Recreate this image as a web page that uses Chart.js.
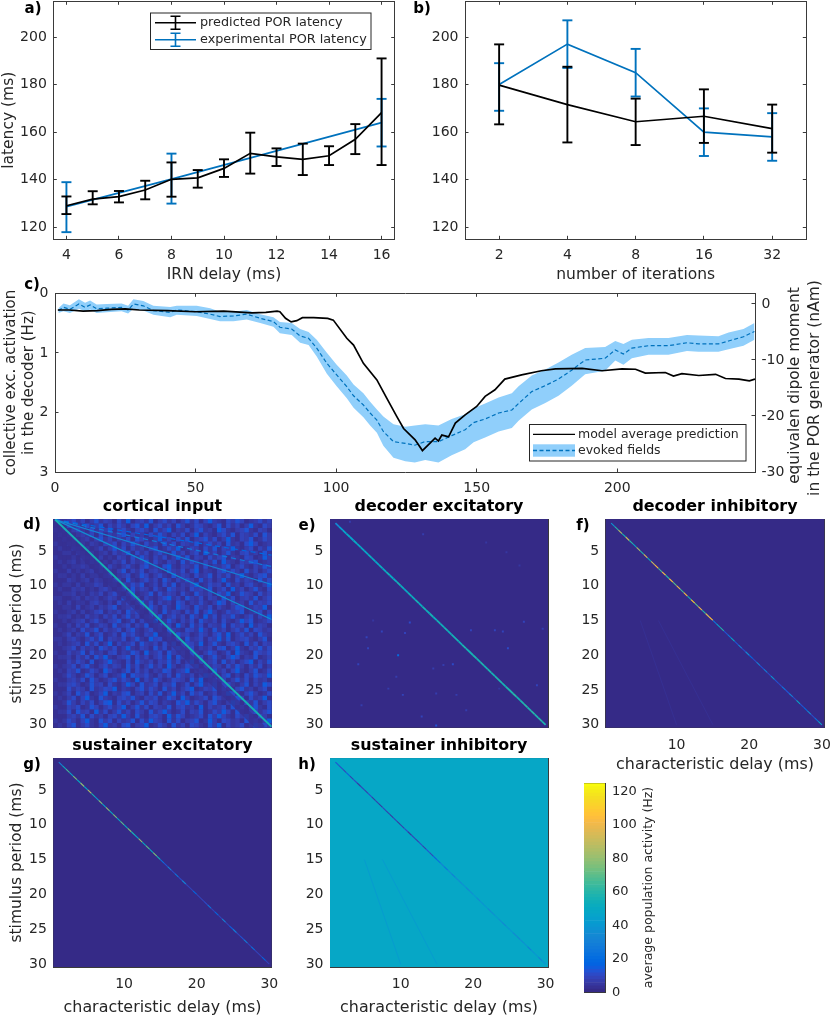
<!DOCTYPE html>
<html><head><meta charset="utf-8">
<style>html,body{margin:0;padding:0;background:#fff;width:830px;height:1016px;overflow:hidden}
canvas{position:absolute;filter:blur(0.45px)}</style>
<script src="https://cdn.jsdelivr.net/npm/chart.js@4"></script>
</head><body>
<script>
// ---- panel a
const irnDelay=[4,5,6,7,8,9,10,11,12,13,14,15,16];
const irnPred=[129.1,131.9,132.9,135.7,140.2,140.8,144.8,151.1,149.6,148.6,150.1,157,168.2];
const irnPredHi=[133,135.2,135.3,139.6,147.3,144.1,148.6,159.8,153.2,155.2,154.1,163.4,191];
const irnPredLo=[125.6,129.7,130.5,131.8,132.9,136.7,141.2,142.6,145.8,142,146.2,150.8,146.2];
const irnExpDelay=[4,8,16];
const irnExp=[128.7,140.3,164];
const irnExpHi=[139,151,174];
const irnExpLo=[118,130,154];
// ---- panel b
const iterations=[2,4,8,16,32];
const iterPred=[179.8,171.6,164.4,166.7,161.5];
const iterPredHi=[196.9,187.5,174.1,178,171.6];
const iterPredLo=[163.3,155.7,154.6,155.5,151.4];
const iterExp=[180,197,185,160,158];
const iterExpHi=[189,207,195,170,168];
const iterExpLo=[169,187,175,150,148];
// ---- panel c
const modelTime=[1,5,10,15,20,25,30,40,50,60,70,75,79,80,82,84,86,88,92,97,99,103.8,106.2,109.7,114.5,118,121.6,124,128.1,130.7,135.2,136.4,137.6,140,142.4,145.9,150,153,156.5,160,166,173,178,187.5,194.6,201.7,206.5,210,217.1,220,223,229,235,238.5,243.3,247,249];
const modelActivity=[.28,.28,.30,.29,.27,.26,.28,.29,.31,.30,.33,.32,.30,.31,.42,.48,.46,.41,.41,.42,.45,.755,.87,1.175,1.455,1.76,2.07,2.27,2.46,2.64,2.43,2.48,2.38,2.41,2.18,2.04,1.90,1.73,1.62,1.44,1.37,1.30,1.27,1.26,1.30,1.27,1.275,1.34,1.33,1.39,1.35,1.38,1.36,1.43,1.44,1.47,1.44];
const evokedTime=[1.2,3,5.3,8.5,10.7,12.5,14.8,18.4,23.7,26,27.9,31.4,35,41,43.3,50.4,55.2,58.7,63.5,68.2,73,77.7,80,84.2,87.2,90.2,93.1,96.7,100.2,103.8,106.2,109.7,112.1,114.5,116.8,120.4,124.6,128,131.7,136.4,141.1,145.9,148.9,153,157.8,162.5,164.9,169.6,174.4,179.1,183.8,188.6,195.7,199.3,202.2,205.2,211.1,218.2,224.8,228.9,236,239.6,244.9,248.8];
const evokedMean=[.29,.235,.27,.18,.235,.196,.26,.25,.235,.28,.18,.21,.29,.32,.28,.31,.35,.39,.38,.35,.42,.476,.57,.60,.716,.755,.92,1.175,1.37,1.567,1.72,1.875,2.01,2.13,2.32,2.49,2.52,2.55,2.49,2.49,2.39,2.29,2.17,2.11,2.01,1.96,1.85,1.65,1.55,1.44,1.29,1.12,1.09,.95,1.02,.92,.88,.88,.83,.85,.85,.80,.73,.64];
const evokedUpper=[.25,.17,.2,.10,.16,.12,.19,.18,.17,.21,.10,.13,.21,.23,.21,.21,.25,.31,.31,.28,.35,.40,.48,.50,.60,.65,.78,1.00,1.20,1.38,1.53,1.68,1.82,1.95,2.07,2.20,2.24,2.22,2.20,2.22,2.11,2.03,1.93,1.85,1.75,1.68,1.56,1.38,1.28,1.16,1.03,.92,.90,.80,.85,.78,.75,.75,.70,.71,.72,.66,.60,.50];
const evokedLower=[.33,.30,.33,.26,.30,.27,.33,.32,.30,.34,.26,.29,.36,.40,.36,.38,.43,.47,.47,.44,.50,.56,.67,.70,.83,.87,1.06,1.35,1.56,1.76,1.92,2.08,2.22,2.34,2.56,2.76,2.82,2.84,2.80,2.84,2.72,2.62,2.50,2.42,2.32,2.26,2.14,1.95,1.84,1.72,1.55,1.36,1.30,1.13,1.20,1.09,1.03,1.03,.97,.98,.98,.94,.88,.78];
// ---- heat maps: characteristic delay = stimulus period along the diagonal, one value per knot
const diagKnots=[1,1.5,2,2.5,3,3.5,4,4.5,5,5.5,6,6.5,7,7.5,8,8.5,9,9.5,10,10.5,11,11.5,12,12.5,13,13.5,14,14.5,15,15.5,16,16.5,17,17.5,18,18.5,19,19.5,20,20.5,21,21.5,22,22.5,23,23.5,24,24.5,25,25.5,26,26.5,27,27.5,28,28.5,29,29.5,30];
const decExcDiag=[35,42,45,48,45,50,47,50,48,52,50,48,52,50,53,50,52,55,52,50,54,52,55,52,55,53,55,52,55,54,56,54,55,56,54,57,55,56,58,55,57,56,58,55,57,58,56,58,57,59,56,58,60,57,59,58,60,58,65];
const decInhDiag=[40,60,85,55,90,60,50,85,60,95,50,90,105,65,100,60,105,70,100,65,105,55,110,70,100,60,95,105,25,45,60,12,25,50,12,30,10,35,18,10,30,12,28,10,40,12,10,24,12,30,10,48,12,18,35,10,22,45,12];
const susExcDiag=[30,50,65,45,75,50,80,45,85,55,40,75,45,80,50,75,45,70,50,75,55,45,80,50,70,50,75,55,22,12,30,10,25,10,30,8,8,18,8,8,10,25,8,18,8,30,8,15,28,8,12,28,8,22,8,8,18,8,8];
const susInhDiag=[12,10,8,15,6,10,5,8,6,10,5,7,5,9,6,5,8,5,7,10,5,8,6,10,7,12,8,14,22,30,24,34,28,34,36,38,32,36,40,34,38,40,34,36,40,36,32,38,40,34,32,36,38,28,38,40,30,38,44];
// cortical input: harmonic ridges (period reached at the right edge, value, dashed?)
const ridgeEndPeriod=[30.3,14.85,9.83,7.25,5.6];
const ridgeValue=[56,37,30,26,18];
const ridgeDash=[0,0,0,1,1];
// dim band running just under the main ridge of the cortical input, ends [delay, period]
const corticalGap=[[.5,1.6],[29,30.6]];
// cortical input: background texture, one digit per cell (rows = period, columns = delay)
const corticalRows=[
"011241302513204160231502413025140362104253012413","000312041250314203516024130520143102504130261042",
"101023104132502410342051360214035120641023510320","010101213040213503120415203140260310241503214052",
"001010120251302140531026130415023514026103250142","100110102103240315204120514032150241305120463012",
"010021010130251403120350142601320415032610240315","001102101012031250413024105130240613025103412051",
"100010211020103204152031402615032041350210430162",
"010120102101021403125041032051420315062103245012","001011210120310241035120461032150402135024103152",
"100201012021102503140231052140360210351420513024","011010201102301240153024105132041250314036102451",
"000210120210132051024130520314205130261041320514","101102011320120314250130415021360142305120341026",
"010021201023102405132041053120423150240613025104","001120102130241035012504132041052130426015320413",
"110012021201320514203102461305214032051402315024","010201102310204130251403120530214102640312051324",
"001103012021350124031520410632052140310254013260","100120201340213052410320513204150362014235012403",
"011201031203140251302415024130520614032510240316","001012302410235014031260152031405213041026350124",
"100203140132051240315024130620514032150423061320","010120412503124035102413052104316205130241504312",
"001302150240130524103260140523014203516024130521","110231024150321402510634021305124032615023410250",
"010123051402603124052130415024316025103420514032","001240312053140261032051403521402130450261032514",
"100312504120340215306124052130410253014062105324","011203140526102350413024160520314025103640215013",
"000314205013621040521303251402603124051302460315","101240351024132051402513062014350213204152031402",
"010325014206310250413021540236014205130361025014","001420153024012605324103140521302641035020415326",
"100231405201351420603152014320516024130251403120","011342015230410263051240325014036125034102503164",
"000413205124360210351420513024601325041035120240","101305240136021450230415026130524013026410352014",
"010240361052103425103240153062012405310253041260","001520314025604130251430210536142035102640315024",
"100324015302413602514032150341206031240513025104","011405230614025130420513620140325014263051024135",
"000231504120341620510342061530124052631042510320","101420361052403125041632051402350162043120513026",
"010350241036120450236014205130431052603124015342"];
// decoder excitatory: isolated spots [delay, period, value]
const decExcSpots=[[9.65,20,20],[11.26,15.3,10],[10.6,16.8,8],[5.3,17.4,8],[7.4,16.6,8],[5.5,19,8],[4.15,21.3,8],[17.2,21.3,10],[23,16.4,8],[24.1,16.6,8],[24.8,19,10],[27,15.2,8],[19.7,16.4,8],[14.9,30.1,12],[12.9,28.8,8],[10.3,25.7,8],[9.4,23.1,6],[8.3,24.8,6],[4.6,27.2,6],[14.9,25.5,7],[19.05,27.9,7],[28.8,24.3,9],[13.1,2.6,6],[24.6,5.2,5],[3,0.8,6],[21.8,3.8,5],[26.4,7.1,5],[17.7,25.7,6],[6.2,15,5],[29.6,16.2,6],[23.6,24.8,5],[14.5,21.9,6],[15.9,21.4,6]];
// faint subharmonic lines of the inhibitory maps, ends [delay, period]
const subLineA=[[5,15],[10,30]];
const subLineB=[[7.5,15],[15,30]];
const periodTicks=[5,10,15,20,25,30];
const delayTicks=[10,20,30];
const colorbarTicks=[0,20,40,60,80,100,120];
const parula=[[.2081,.1663,.5292],[.2116,.1898,.5777],[.2123,.2138,.6270],[.2081,.2386,.6771],[.1959,.2645,.7279],[.1707,.2919,.7792],[.1253,.3242,.8303],[.0591,.3598,.8683],[.0117,.3875,.8820],[.0060,.4086,.8828],[.0165,.4266,.8786],[.0329,.4430,.8720],[.0498,.4586,.8641],[.0629,.4737,.8554],[.0723,.4887,.8467],[.0779,.5040,.8384],[.0793,.5200,.8312],[.0749,.5375,.8263],[.0641,.5570,.8240],[.0488,.5772,.8228],[.0343,.5966,.8199],[.0265,.6137,.8135],[.0239,.6287,.8038],[.0231,.6418,.7913],[.0228,.6535,.7768],[.0267,.6642,.7607],[.0384,.6743,.7436],[.0590,.6838,.7254],[.0843,.6928,.7060],[.1133,.7015,.6859],[.1453,.7098,.6646],[.1801,.7177,.6424],[.2178,.7250,.6193],[.2586,.7317,.5954],[.3022,.7376,.5712],[.3482,.7424,.5473],[.3953,.7459,.5244],[.4420,.7481,.5033],[.4871,.7491,.4839],[.5300,.7491,.4661],[.5709,.7485,.4494],[.6099,.7473,.4337],[.6473,.7456,.4188],[.6834,.7435,.4044],[.7184,.7411,.3905],[.7525,.7384,.3768],[.7858,.7356,.3633],[.8185,.7327,.3498],[.8507,.7299,.3360],[.8824,.7274,.3217],[.9139,.7258,.3063],[.9450,.7261,.2886],[.9739,.7314,.2666],[.9938,.7455,.2403],[.9990,.7653,.2164],[.9955,.7861,.1967],[.9880,.8066,.1794],[.9789,.8271,.1633],[.9697,.8481,.1475],[.9626,.8705,.1309],[.9589,.8949,.1132],[.9598,.9218,.0948],[.9661,.9514,.0755],[.9763,.9831,.0538]];

const FF='"DejaVu Sans"', INK='#262626', LINE='#3a3a3a', BLUE='#0072BD', BAND='#90CFFB';
const TICK={family:FF,size:14}, LAB={family:FF,size:15.5,lineHeight:1.14};
Chart.defaults.animation=false;Chart.defaults.responsive=false;Chart.defaults.devicePixelRatio=1;
Chart.defaults.font.family=FF;Chart.defaults.color=INK;Chart.defaults.layout.autoPadding=false;
Chart.defaults.plugins.legend.display=false;Chart.defaults.plugins.tooltip.enabled=false;

function cmap(v){const c=parula[Math.max(0,Math.min(63,Math.floor(v/125*64)))];return `rgb(${c.map(x=>Math.round(x*255)).join(',')})`;}
function panel(l,t,w,h){const c=document.createElement('canvas');c.width=w;c.height=h;c.style.left=l+'px';c.style.top=t+'px';document.body.appendChild(c);return c;}
function axis(o){
  const s={type:o.type||'linear',position:o.position,min:o.min,max:o.max,reverse:!!o.reverse,
    border:{display:true,color:LINE,width:1},
    grid:{drawOnChartArea:false,drawTicks:!!o.ticks,tickLength:-(o.len||3.5),tickColor:LINE,tickWidth:1},
    ticks:{display:!!o.labels,font:o.font||TICK,color:INK,padding:o.padding||0,maxRotation:0,minRotation:0,autoSkip:false,includeBounds:false,callback:v=>String(v)},
    afterBuildTicks:x=>{x.ticks=(o.ticks||[]).map(v=>({value:v}));},
    afterFit:x=>{if(x.isHorizontal())x.height=o.size;else x.width=o.size;x.paddingLeft=x.paddingRight=x.paddingTop=x.paddingBottom=0;}};
  if(o.title)s.title={display:true,text:o.title,font:o.titleFont||LAB,color:INK,padding:o.titlePad||0};
  return s;
}
function textPlugin(items){return {id:'pageText',afterDraw(ch){const g=ch.ctx,ox=ch.canvas.offsetLeft,oy=ch.canvas.offsetTop;g.save();
  for(const it of items){g.save();g.translate(it.x-ox,it.y-oy);if(it.rot)g.rotate(it.rot);g.font=it.font||`bold 15px ${FF}`;g.fillStyle=it.color||'#000';g.textAlign=it.align||'center';g.textBaseline='middle';g.fillText(it.t,0,0);g.restore();}
  g.restore();}};}
function errorSeries(xs,hi,lo,color){const d=[];xs.forEach((x,i)=>{d.push({x,y:lo[i]},{x,y:hi[i]},{x,y:null});});
  return {type:'line',data:d,borderColor:color,borderWidth:1.9,pointStyle:'line',pointRadius:5,pointBorderColor:color,pointBorderWidth:1.9,spanGaps:false,clip:false};}
function meanSeries(xs,ys,color,w){return {type:'line',data:xs.map((x,i)=>({x,y:ys[i]})),borderColor:color,borderWidth:w||1.7,pointRadius:0,tension:0};}

// a
const legA={id:'legA',afterDraw(ch){const g=ch.ctx;g.save();g.fillStyle='#fff';g.strokeStyle=INK;g.lineWidth=1;g.fillRect(150,13,221,36.5);g.strokeRect(150.5,13,220.5,36.5);
  const row=(y,c,t)=>{g.strokeStyle=c;g.lineWidth=1.6;g.beginPath();g.moveTo(155,y);g.lineTo(196,y);g.moveTo(175.5,y-6.5);g.lineTo(175.5,y+6.5);g.moveTo(170.5,y-6.5);g.lineTo(180.5,y-6.5);g.moveTo(170.5,y+6.5);g.lineTo(180.5,y+6.5);g.stroke();
    g.fillStyle=INK;g.font=`12.8px ${FF}`;g.textAlign='left';g.textBaseline='middle';g.fillText(t,200,y);};
  row(22.7,'#000','predicted POR latency');row(39.7,BLUE,'experimental POR latency');g.restore();}};
new Chart(panel(0,0,410,284),{type:'line',data:{datasets:[
  meanSeries(irnDelay,irnPred,'#000'),errorSeries(irnDelay,irnPredHi,irnPredLo,'#000'),
  meanSeries(irnExpDelay,irnExp,BLUE),errorSeries(irnExpDelay,irnExpHi,irnExpLo,BLUE)]},
 options:{scales:{
  x:axis({position:'bottom',min:3.5,max:16.5,ticks:[4,6,8,10,12,14,16],labels:1,size:44.7,padding:11.5,title:'IRN delay (ms)'}),
  xt:axis({position:'top',min:3.5,max:16.5,ticks:[4,6,8,10,12,14,16],size:1.3}),
  y:axis({position:'left',min:115,max:215,ticks:[120,140,160,180,200],labels:1,size:53.3,padding:10,title:'latency (ms)'}),
  yr:axis({position:'right',min:115,max:215,ticks:[120,140,160,180,200],size:15.3})}},
 plugins:[legA,textPlugin([{t:'a)',x:33,y:9}])]});
// b
new Chart(panel(410,0,420,284),{type:'line',data:{datasets:[
  meanSeries(iterations,iterPred,'#000'),errorSeries(iterations,iterPredHi,iterPredLo,'#000'),
  meanSeries(iterations,iterExp,BLUE),errorSeries(iterations,iterExpHi,iterExpLo,BLUE)]},
 options:{scales:{
  x:axis({type:'logarithmic',position:'bottom',min:1.4142,max:45.255,ticks:iterations,labels:1,size:44.7,padding:11.5,title:'number of iterations'}),
  xt:axis({type:'logarithmic',position:'top',min:1.4142,max:45.255,ticks:iterations,size:1.3}),
  y:axis({position:'left',min:115,max:215,ticks:[120,140,160,180,200],labels:1,size:55,padding:10}),
  yr:axis({position:'right',min:115,max:215,ticks:[120,140,160,180,200],size:23.7})}},
 plugins:[textPlugin([{t:'b)',x:422,y:9}])]});
// c
const legC={id:'legC',afterDraw(ch){const g=ch.ctx,oy=ch.canvas.offsetTop;g.save();g.translate(0,-oy);g.fillStyle='#fff';g.strokeStyle=INK;g.lineWidth=1;g.fillRect(529,424.5,217,36.5);g.strokeRect(529.5,424.5,216.5,36.5);
  g.strokeStyle='#000';g.lineWidth=1.3;g.beginPath();g.moveTo(533,434.3);g.lineTo(575,434.3);g.stroke();
  g.fillStyle=BAND;g.fillRect(533,444.3,42,12.4);g.strokeStyle=BLUE;g.setLineDash([4,2.5]);g.beginPath();g.moveTo(533,450.5);g.lineTo(575,450.5);g.stroke();g.setLineDash([]);
  g.fillStyle=INK;g.font=`12.5px ${FF}`;g.textAlign='left';g.textBaseline='middle';g.fillText('model average prediction',578,434.3);g.fillText('evoked fields',578,451);g.restore();}};
const toXY=(xs,ys)=>xs.map((x,i)=>({x,y:ys[i]}));
new Chart(panel(0,275,830,225),{type:'line',data:{datasets:[
  {data:toXY(modelTime,modelActivity),borderColor:'#000',borderWidth:1.7,pointRadius:0,tension:0},
  {data:toXY(evokedTime,evokedMean),borderColor:BLUE,borderWidth:1.2,borderDash:[4,2.5],pointRadius:0,tension:0},
  {data:toXY(evokedTime,evokedUpper),borderWidth:0,pointRadius:0,backgroundColor:BAND,fill:'+1',tension:0},
  {data:toXY(evokedTime,evokedLower),borderWidth:0,pointRadius:0,tension:0}]},
 options:{scales:{
  x:axis({position:'bottom',min:0,max:249,ticks:[0,50,100,150,200],labels:1,size:28,padding:11.5}),
  xt:axis({position:'top',min:0,max:249,ticks:[0,50,100,150,200],size:18.3}),
  y:axis({position:'left',min:0,max:3,reverse:true,ticks:[0,1,2,3],labels:1,size:55,padding:10,title:['collective exc. activation','in the decoder (Hz)'],titlePad:2.5,titleFont:{family:FF,size:15,lineHeight:1.17}}),
  yr:axis({position:'right',min:-30,max:1.91,ticks:[-30,-20,-10,0],labels:1,size:75,padding:10})}},
 plugins:[legC,textPlugin([{t:'c)',x:32,y:285},
   {t:'equivalen dipole moment',x:795,y:385.5,rot:-Math.PI/2,font:`15.4px ${FF}`,color:INK},
   {t:'in the POR generator (nAm)',x:815,y:388,rot:-Math.PI/2,font:`15.5px ${FF}`,color:INK}])]});

// heat maps
const heatBack={id:'heatBack',beforeDatasetsDraw(ch,a,o){const r=ch.chartArea;ch.ctx.save();ch.ctx.fillStyle=cmap(o.value);ch.ctx.fillRect(r.left,r.top,r.width,r.height);ch.ctx.restore();}};
function diagLine(vals,w){return {type:'line',data:diagKnots.map(k=>({x:k,y:k})),borderWidth:w,pointRadius:0,tension:0,borderColor:cmap(vals[0]),
  segment:{borderColor:c=>cmap(vals[c.p0DataIndex])}};}
function twoPoint(p,v){return {type:'line',data:p.map(q=>({x:q[0],y:q[1]})),borderColor:cmap(v),borderWidth:1,pointRadius:0,tension:0};}
function cellSeries(cells,r){return {type:'scatter',data:cells.map(c=>({x:c[0],y:c[1]})),pointStyle:'rect',pointRadius:r,borderWidth:0,pointBorderWidth:0,showLine:false,
  pointBackgroundColor:cells.map(c=>cmap(c[2]))};}
const HEATLAB={family:FF,size:15.9,lineHeight:1.14};
function heat(o){
  const sx={position:'bottom',min:.25,max:30.33,ticks:delayTicks,labels:o.xLabels,size:o.bottom,padding:12.5,title:o.xLabels?'characteristic delay (ms)':null,titleFont:HEATLAB};
  new Chart(panel(o.l,o.t,o.w,o.h),{type:'scatter',data:{datasets:o.datasets},
  options:{plugins:{heatBack:{value:o.bg},title:{display:true,fullSize:false,text:o.title,font:{family:FF,size:15.9,weight:'bold',lineHeight:1.2},color:'#000',padding:{top:0,bottom:o.titleGap}}},
   scales:{x:axis(sx),xt:axis({position:'top',min:.25,max:30.33,ticks:delayTicks,size:0.1,len:3}),
    y:axis({position:'left',min:.42,max:30.42,reverse:true,ticks:periodTicks,labels:1,size:o.leftM,padding:10,title:o.yTitle?'stimulus period (ms)':null,titlePad:8}),
    yr:axis({position:'right',min:.42,max:30.42,reverse:true,ticks:periodTicks,size:o.rightM,len:3})}},
  plugins:[heatBack,textPlugin([{t:o.letter,x:o.lx,y:o.ly}])]});
}
const cortCells=[];corticalRows.forEach((row,r)=>{[...row].forEach((d,c)=>{cortCells.push([.25+(c+.5)*30.08/row.length,.42+(r+.5)*30/corticalRows.length,2+d*2]);});});
const ridges=ridgeEndPeriod.map((p,i)=>{const s=twoPoint([[.5,.5],[30.33,p]],ridgeValue[i]);s.borderWidth=i===0?2:1.2;if(ridgeDash[i])s.borderDash=[5,4];return s;});
const gap=twoPoint(corticalGap,2);gap.borderColor=cmap(2).replace('rgb','rgba').replace(')',',.7)');gap.borderWidth=8;
heat({l:0,t:497,w:290,h:240,title:'cortical input',bg:3,titleGap:2.9,leftM:53.3,rightM:18.3,bottom:9.3,letter:'d)',lx:32,ly:525,yTitle:1,
  datasets:[...ridges,gap,cellSeries(cortCells,3.4)]});
heat({l:290,t:497,w:265,h:240,title:'decoder excitatory',bg:1,titleGap:2.9,leftM:40,rightM:7,bottom:9.3,letter:'e)',lx:307,ly:526,
  datasets:[diagLine(decExcDiag,1.8),cellSeries(decExcSpots,1.4)]});
heat({l:570,t:497,w:260,h:277,title:'decoder inhibitory',bg:1,titleGap:2.9,leftM:35.7,rightM:5.7,bottom:46.3,letter:'f)',lx:583,ly:526,xLabels:1,
  datasets:[diagLine(decInhDiag,1.1),twoPoint(subLineA,3),twoPoint(subLineB,3)]});
heat({l:0,t:736,w:290,h:281,title:'sustainer excitatory',bg:1,titleGap:2.9,leftM:53.3,rightM:18.3,bottom:50,letter:'g)',lx:32,ly:765,yTitle:1,xLabels:1,
  datasets:[diagLine(susExcDiag,1.1)]});
heat({l:290,t:736,w:265,h:281,title:'sustainer inhibitory',bg:47,titleGap:2.9,leftM:40,rightM:7,bottom:50,letter:'h)',lx:307,ly:765,xLabels:1,
  datasets:[diagLine(susInhDiag,1.1),twoPoint(subLineA,42),twoPoint(subLineB,42)]});

// colour bar
const cbStep=125/parula.length;
new Chart(panel(575,775,120,232),{type:'bar',data:{labels:[''],datasets:parula.map((c,i)=>({data:[cbStep],backgroundColor:cmap((i+.5)*cbStep),stack:'c',barPercentage:1,categoryPercentage:1,borderWidth:0}))},
 options:{scales:{
  x:{type:'category',stacked:true,position:'bottom',border:{color:LINE},grid:{display:false},ticks:{display:false},afterFit:s=>{s.height=14.7;s.paddingLeft=s.paddingRight=0;}},
  y:Object.assign(axis({position:'right',min:0,max:125,ticks:colorbarTicks,labels:1,size:90,padding:10.5,font:{family:FF,size:13}}),{stacked:true}),
  xt:axis({position:'top',min:0,max:1,size:8.3}),
  yl:axis({position:'left',min:0,max:125,size:9})}},
 plugins:[textPlugin([{t:'average population activity (Hz)',x:649,y:887.5,rot:-Math.PI/2,font:`12.5px ${FF}`,color:INK}])]});
</script>
</body></html>
